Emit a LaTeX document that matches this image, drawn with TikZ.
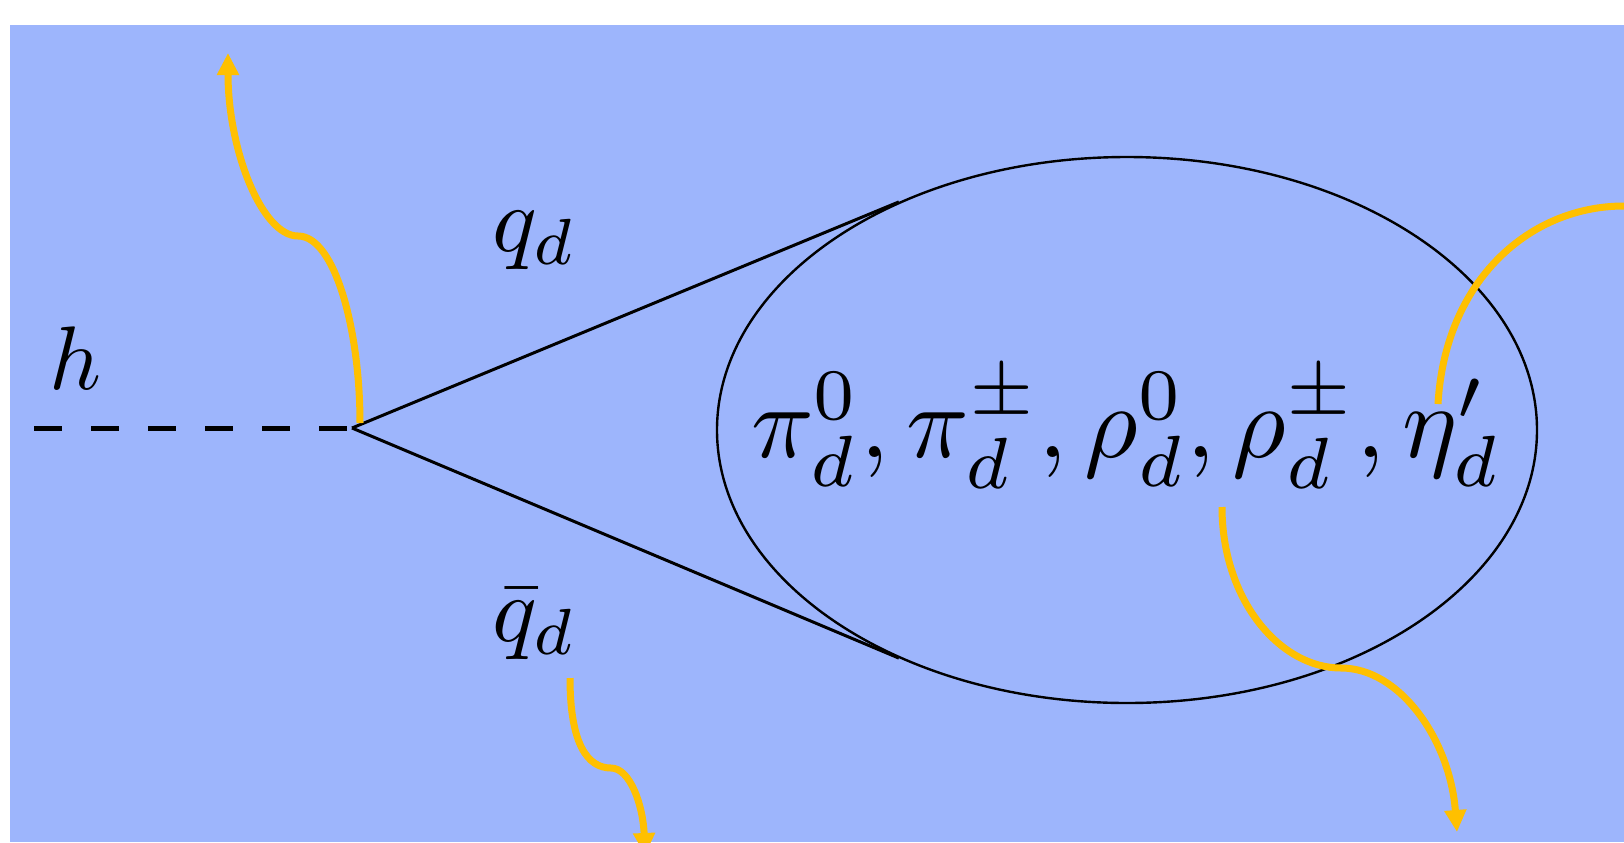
\documentclass[tikz,border=0pt]{standalone}
\usepackage{graphicx}
\usetikzlibrary{shapes.geometric,arrows.meta}
\definecolor{bgblue}{RGB}{157,181,252}
\definecolor{gold}{RGB}{255,192,0}
\begin{document}
\begin{tikzpicture}[x=0.5pt,y=-0.5pt,
  quark/.style={line width=1.5pt},
  higgs/.style={line width=2.5pt, dash pattern=on 14pt off 14.5pt},
  gluon/.style={draw=gold, line width=3.5pt, -{Triangle[width=10.5pt,length=11pt]}},
  gluonfree/.style={draw=gold, line width=3.5pt},
  lab/.style={inner sep=0pt, outer sep=0pt},
  blob/.style={draw, ellipse, line width=1.2pt, inner sep=0pt}]
\useasboundingbox (0,0) rectangle (1624,842);
\clip (0,0) rectangle (1624,842);
\fill[bgblue] (10,25) rectangle (1624,842);
% ellipse (meson blob)
\node[blob, minimum width=410pt, minimum height=273pt] (E) at (1127,430) {};
% labels
\node[lab] (h) at (76,358) {\resizebox{26pt}{!}{$h$}};
\node[lab, anchor=base west] (q) at (492,251) {\resizebox{42.5pt}{!}{$q_d$}};
\node[lab, anchor=base west] (qb) at (492,641) {\resizebox{42.5pt}{!}{$\bar q_d$}};
\node[lab, anchor=base west] (mes) at (751,457) {\resizebox{375.5pt}{!}{$\pi^0_d, \pi^\pm_d, \rho^0_d, \rho^\pm_d, \eta'_d$}};
% higgs and quark lines
\coordinate (hs) at (34,428);
\coordinate (V) at (352,428);
\draw[higgs] (hs) -- (V);
\draw[quark] (V) -- (E.135);
\draw[quark] (V) -- (E.225);
% gluon-like emissions
\coordinate (g1s) at (360,423);
\coordinate (g1k) at (298,236);
\coordinate (g1e) at (228,53);
\draw[gluon] (g1s) .. controls (360,330) and (335,236) .. (g1k) .. controls (262,236) and (228,150) .. (g1e);
\coordinate (g2s) at (570,678);
\coordinate (g2k) at (611,768);
\coordinate (g2e) at (645,855);
\draw[gluon] (g2s) .. controls (570,745) and (588,768) .. (g2k) .. controls (630,768) and (643,805) .. (g2e);
\coordinate (g3s) at (1222,507);
\coordinate (g3k) at (1341,668);
\coordinate (g3e) at (1457,832);
\draw[gluon] (g3s) .. controls (1222,600) and (1280,668) .. (g3k) .. controls (1400,668) and (1450,740) .. (g3e);
\coordinate (g4s) at (1438,404);
\coordinate (g4e) at (1640,206);
\draw[gluonfree] (g4s) .. controls (1445,280) and (1530,206) .. (1624,206) -- (g4e);
\end{tikzpicture}
\end{document}
